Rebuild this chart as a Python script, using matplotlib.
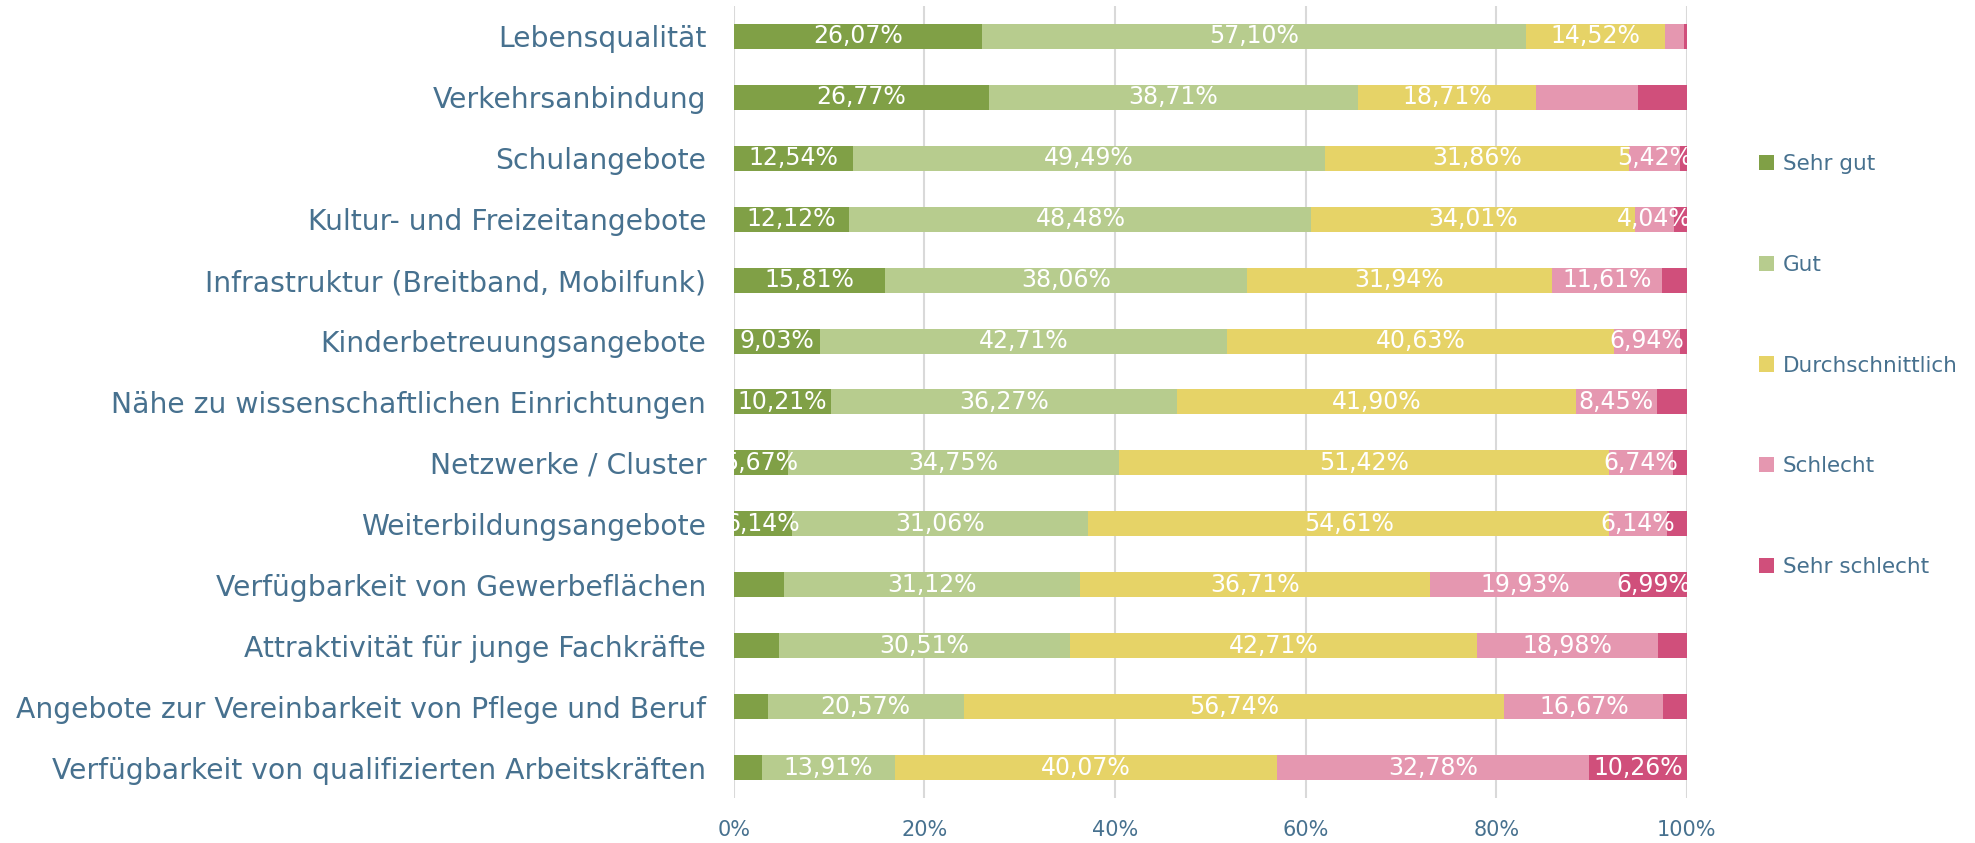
import numpy as np
import matplotlib.pyplot as plt

categories = [
    "Lebensqualität",
    "Verkehrsanbindung",
    "Schulangebote",
    "Kultur- und Freizeitangebote",
    "Infrastruktur (Breitband, Mobilfunk)",
    "Kinderbetreuungsangebote",
    "Nähe zu wissenschaftlichen Einrichtungen",
    "Netzwerke / Cluster",
    "Weiterbildungsangebote",
    "Verfügbarkeit von Gewerbeflächen",
    "Attraktivität für junge Fachkräfte",
    "Angebote zur Vereinbarkeit von Pflege und Beruf",
    "Verfügbarkeit von qualifizierten Arbeitskräften",
]
series = ["Sehr gut", "Gut", "Durchschnittlich", "Schlecht", "Sehr schlecht"]

sehr_gut = [26.07, 26.77, 12.54, 12.12, 15.81, 9.03, 10.21, 5.67, 6.14, 5.25, 4.75, 3.55, 2.98]
gut = [57.10, 38.71, 49.49, 48.48, 38.06, 42.71, 36.27, 34.75, 31.06, 31.12, 30.51, 20.57, 13.91]
durchschnittlich = [14.52, 18.71, 31.86, 34.01, 31.94, 40.63, 41.90, 51.42, 54.61, 36.71, 42.71, 56.74, 40.07]
schlecht = [1.98, 10.65, 5.42, 4.04, 11.61, 6.94, 8.45, 6.74, 6.14, 19.93, 18.98, 16.67, 32.78]
sehr_schlecht = [0.33, 5.16, 0.69, 1.35, 2.58, 0.69, 3.17, 1.42, 2.05, 6.99, 3.05, 2.47, 10.26]

# which segments carry a value label (1 = shown)
show_sehr_gut = [1, 1, 1, 1, 1, 1, 1, 1, 1, 0, 0, 0, 0]
show_gut = [1] * 13
show_durch = [1] * 13
show_schlecht = [0, 0, 1, 1, 1, 1, 1, 1, 1, 1, 1, 1, 1]
show_sehr_schlecht = [0, 0, 0, 0, 0, 0, 0, 0, 0, 1, 0, 0, 1]

colors = ["#80a046", "#b7cc8e", "#e6d367", "#e597b0", "#d04f7b"]
txt_color = "#47718f"

values = [sehr_gut, gut, durchschnittlich, schlecht, sehr_schlecht]
shows = [show_sehr_gut, show_gut, show_durch, show_schlecht, show_sehr_schlecht]

fig = plt.figure(figsize=(19.75, 8.43), dpi=100)
ax = fig.add_axes([0.3716, 0.0534, 0.4825, 0.9395])

y = np.arange(len(categories))
left = np.zeros(len(categories))
for name, vals, show, c in zip(series, values, shows, colors):
    vals = np.array(vals)
    bars = ax.barh(y, vals, left=left, height=0.41, color=c, label=name, zorder=2)
    for b, v, s in zip(bars, vals, show):
        if s:
            ax.text(b.get_x() + b.get_width() / 2, b.get_y() + b.get_height() / 2,
                    f"{v:.2f}%".replace(".", ","), ha="center", va="center",
                    color="white", fontsize=17, zorder=3, clip_on=True)
    left += vals

ax.set_xlim(0, 100)
ax.set_ylim(len(categories) - 0.5, -0.5)
ax.set_xticks(np.arange(0, 101, 20), [f"{t}%" for t in range(0, 101, 20)])
ax.set_yticks(y, categories)
ax.tick_params(axis="x", colors=txt_color, labelsize=15, length=0, pad=16)
ax.tick_params(axis="y", colors=txt_color, labelsize=20.3, length=0, pad=20)
ax.grid(axis="x", color="#d9d9d9", lw=1.5, zorder=0)
for s in ax.spines.values():
    s.set_visible(False)

leg = fig.legend(loc="upper left", bbox_to_anchor=(0.885, 0.83), frameon=False,
                 fontsize=15.5, labelcolor=txt_color, handlelength=0.72, handleheight=0.72,
                 handletextpad=0.4, labelspacing=3.75, borderpad=0)

plt.savefig("out.png", dpi=100)
